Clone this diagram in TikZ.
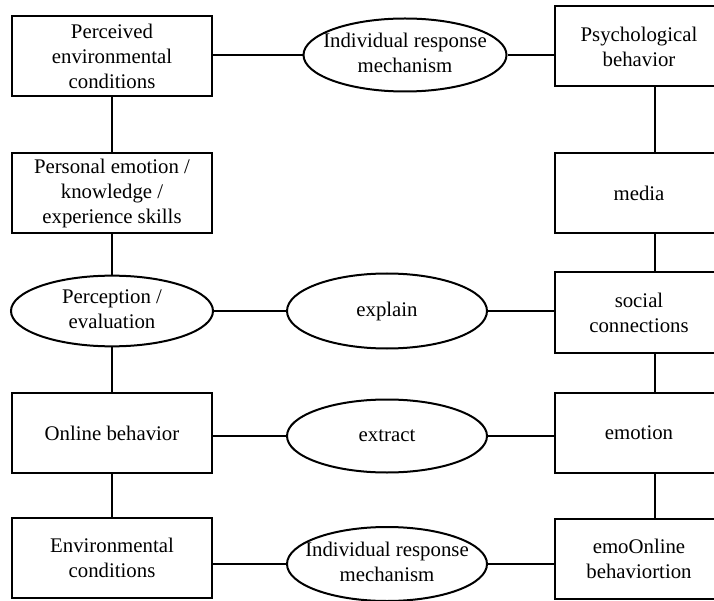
\documentclass[tikz,border=0pt]{standalone}
\usepackage{fontspec}
\setmainfont{Liberation Serif}
\usepackage{tikz}
\usetikzlibrary{shapes.geometric}
\newcommand{\ovaltext}[1]{\makebox[0pt]{\begin{tabular}{@{}c@{}}#1\end{tabular}}}

\begin{document}
\begin{tikzpicture}[x = 1pt, y = -1pt, line width = 2pt,
font = \fontsize{20.8}{25}\selectfont,
box/.style = {draw, rectangle, align = center, inner sep = 0pt, minimum width = 200pt, minimum height = 80pt},
rbox/.style = {box, minimum width = 168pt},
oval/.style = {draw, ellipse, inner sep = 0pt, minimum width = 200pt, minimum height = 74pt}]
\clip (0,0) rectangle (714,601);
% left column
\node[box] (perc) at (112,56) {Perceived\\environmental\\conditions};
\node[box] (pers) at (112,193) {Personal emotion /\\knowledge /\\experience skills};
\node[oval, minimum width = 202pt, minimum height = 70pt] (percep) at (112,311) {\ovaltext{Perception /\\evaluation}};
\node[box] (online) at (112,433) {Online behavior};
\node[box] (env) at (112,558) {Environmental\\conditions};
% middle column
\node[oval, minimum width = 203pt, minimum height = 73pt] (irm1) at (405,55) {\ovaltext{Individual response\\mechanism}};
\node[oval, minimum height = 75pt] (explain) at (387,311) {explain};
\node[oval, minimum height = 73pt] (extract) at (387,436) {extract};
\node[oval] (irm2) at (387,564) {\ovaltext{Individual response\\mechanism}};
% right column
\node[rbox] (psych) at (639,46.5) {Psychological\\behavior};
\node[rbox] (media) at (639,193) {media};
\node[rbox] (social) at (639,312.5) {social\\connections};
\node[rbox] (emotion) at (639,433) {emotion};
\node[rbox] (emo) at (639,558.5) {emoOnline\\behaviortion};
% links
\foreach \a/\b/\c in {perc/irm1/psych, percep/explain/social, online/extract/emotion, env/irm2/emo}
\draw (\a.east |- \b) -- (\b.west) (\b.east) -- (\b.east -| \c.west);
\foreach \a/\b in {perc/pers, pers/percep, percep/online, online/env}
\draw (\a) -- (\b);
\foreach \a/\b in {psych/media, media/social, social/emotion, emotion/emo}
\draw ([xshift = 16pt]\a.south) -- ([xshift = 16pt]\b.north);
\end{tikzpicture}
\end{document}
